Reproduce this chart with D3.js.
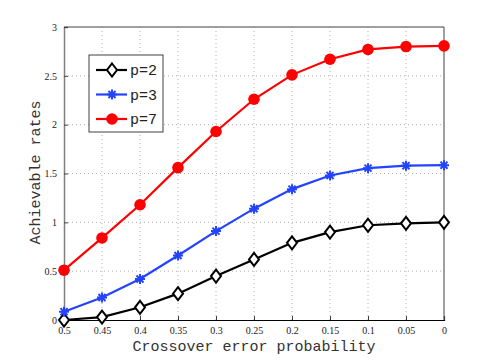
<!DOCTYPE html>
<html>
<head>
<meta charset="utf-8">
<script src="https://cdn.jsdelivr.net/npm/d3@7"></script>
<style>
  body { margin: 0; background: #fff; }
</style>
</head>
<body>
<svg id="chart"></svg>
<script>
// crossover error probability (x, reversed axis)
const probs = [0.5, 0.45, 0.4, 0.35, 0.3, 0.25, 0.2, 0.15, 0.1, 0.05, 0];
const xTickLabels = ["0.5", "0.45", "0.4", "0.35", "0.3", "0.25", "0.2", "0.15", "0.1", "0.05", "0"];
const yTicks = [0, 0.5, 1, 1.5, 2, 2.5, 3];

const rateP2 = [0.0, 0.03, 0.13, 0.27, 0.45, 0.62, 0.79, 0.90, 0.97, 0.99, 1.0];
const rateP3 = [0.085, 0.23, 0.42, 0.66, 0.91, 1.14, 1.34, 1.48, 1.555, 1.58, 1.585];
const rateP7 = [0.51, 0.84, 1.18, 1.56, 1.93, 2.26, 2.51, 2.67, 2.77, 2.80, 2.807];

const seriesNames = ["p=2", "p=3", "p=7"];

const series = [
    { name: seriesNames[0], values: rateP2, color: "#000000", marker: "diamond" },
    { name: seriesNames[1], values: rateP3, color: "#2343ff", marker: "star" },
    { name: seriesNames[2], values: rateP7, color: "#ff0000", marker: "circle" }
];

const serifFont = "'Liberation Serif', 'DejaVu Serif', serif";
const monoFont = "'Liberation Mono', 'DejaVu Sans Mono', monospace";

const W = 491, H = 360;
const margin = { top: 27, right: 47, bottom: 40, left: 64 };
const width = W - margin.left - margin.right;
const height = H - margin.top - margin.bottom;

const svg = d3.select("#chart")
    .attr("width", W)
    .attr("height", H)
    .append("g")
    .attr("transform", `translate(${margin.left},${margin.top})`);

const x = d3.scaleLinear().domain([0.5, 0]).range([0, width]);
const y = d3.scaleLinear().domain([0, 3]).range([height, 0]);

// grid
svg.append("g")
    .selectAll("line.vgrid")
    .data(probs.slice(1, -1))
    .enter().append("line")
    .attr("x1", d => x(d)).attr("x2", d => x(d))
    .attr("y1", 0).attr("y2", height)
    .attr("stroke", "#b0b0b0")
    .attr("stroke-width", 1)
    .attr("stroke-dasharray", "1,3");

svg.append("g")
    .selectAll("line.hgrid")
    .data(yTicks.slice(1, -1))
    .enter().append("line")
    .attr("x1", 0).attr("x2", width)
    .attr("y1", d => y(d)).attr("y2", d => y(d))
    .attr("stroke", "#b0b0b0")
    .attr("stroke-width", 1)
    .attr("stroke-dasharray", "1,3");

// box
svg.append("line").attr("x1", 0).attr("x2", width).attr("y1", 0).attr("y2", 0)
    .attr("stroke", "#808080").attr("stroke-width", 1.5);
svg.append("line").attr("x1", width).attr("x2", width).attr("y1", 0).attr("y2", height)
    .attr("stroke", "#404040").attr("stroke-width", 1);

// X axis
const xAxis = svg.append("g")
    .attr("transform", `translate(0,${height})`)
    .call(d3.axisBottom(x).tickValues(probs).tickFormat((d, i) => xTickLabels[i]).tickSize(-4).tickPadding(7));
xAxis.attr("font-family", serifFont);
xAxis.select(".domain").attr("stroke", "#000").attr("stroke-width", 1.2);
xAxis.selectAll(".tick line").attr("stroke", "#404040");
xAxis.selectAll("text").attr("font-size", "10px").attr("fill", "#222");

// Y axis
const yAxis = svg.append("g")
    .call(d3.axisLeft(y).tickValues(yTicks).tickFormat(d3.format("")).tickSize(-4).tickPadding(7));
yAxis.attr("font-family", serifFont);
yAxis.select(".domain").attr("stroke", "#808080").attr("stroke-width", 1.5);
yAxis.selectAll(".tick line").attr("stroke", "#404040");
yAxis.selectAll("text").attr("font-size", "10px").attr("fill", "#222");

// axis labels
svg.append("text")
    .attr("x", width / 2)
    .attr("y", height + 31)
    .attr("font-family", monoFont)
    .attr("font-size", "15px")
    .attr("text-anchor", "middle")
    .attr("fill", "#333")
    .text("Crossover error probability");

svg.append("text")
    .attr("transform", "rotate(-90)")
    .attr("x", -height / 2 + 1)
    .attr("y", -24)
    .attr("font-family", monoFont)
    .attr("font-size", "15px")
    .attr("text-anchor", "middle")
    .attr("fill", "#333")
    .text("Achievable rates");

function drawMarker(g, type, color) {
    if (type === "circle") {
        g.append("circle").attr("r", 5.8).attr("fill", color);
    } else if (type === "diamond") {
        g.append("path")
            .attr("d", "M0,-6.5L5,0L0,6.5L-5,0Z")
            .attr("fill", "#fff")
            .attr("stroke", color)
            .attr("stroke-width", 2);
    } else {
        const r = 5;
        let d = "";
        for (let k = 0; k < 4; k++) {
            const a = k * Math.PI / 4;
            d += `M${-r * Math.cos(a)},${-r * Math.sin(a)}L${r * Math.cos(a)},${r * Math.sin(a)}`;
        }
        g.append("path").attr("d", d).attr("stroke", color).attr("stroke-width", 2);
    }
}

const line = d3.line()
    .x(d => x(d.p))
    .y(d => y(d.v));

series.forEach(s => {
    const pts = probs.map((p, i) => ({ p, v: s.values[i] }));
    svg.append("path")
        .datum(pts)
        .attr("fill", "none")
        .attr("stroke", s.color)
        .attr("stroke-width", 2.2)
        .attr("d", line);

    pts.forEach(d => {
        const g = svg.append("g").attr("transform", `translate(${x(d.p)},${y(d.v)})`);
        drawMarker(g, s.marker, s.color);
    });
});

// legend
const legend = svg.append("g").attr("transform", `translate(${89 - margin.left},${55 - margin.top})`);
legend.append("rect")
    .attr("width", 74).attr("height", 77)
    .attr("fill", "#fff")
    .attr("stroke", "#404040").attr("stroke-width", 1);

series.forEach((s, i) => {
    const g = legend.append("g").attr("transform", `translate(0,${15 + i * 24.5})`);
    g.append("line").attr("x1", 7).attr("x2", 38).attr("y1", 0).attr("y2", 0)
        .attr("stroke", s.color).attr("stroke-width", 2.2);
    const m = g.append("g").attr("transform", "translate(23,0)");
    drawMarker(m, s.marker, s.color);
    g.append("text")
        .attr("x", 41).attr("y", 0).attr("dy", "0.35em")
        .attr("font-family", monoFont)
        .attr("font-size", "15px")
        .attr("fill", "#222")
        .text(s.name);
});
</script>
</body>
</html>
